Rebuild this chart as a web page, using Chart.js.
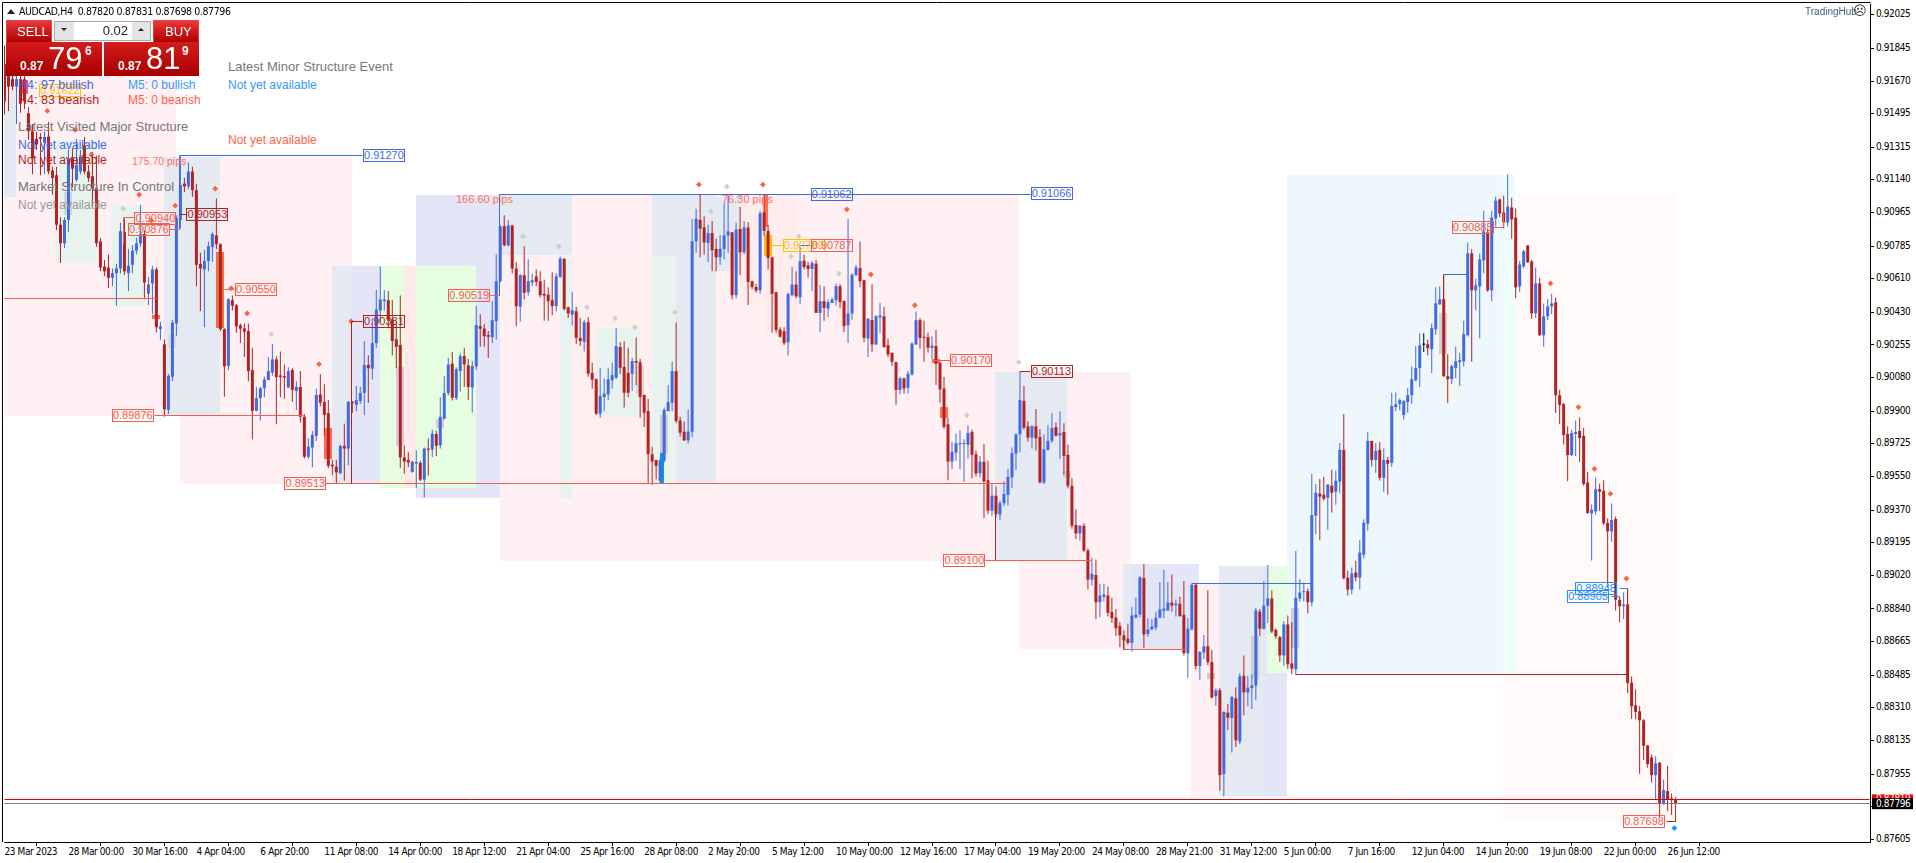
<!DOCTYPE html>
<html>
<head>
<meta charset="utf-8">
<title>AUDCAD,H4</title>
<script src="https://cdn.jsdelivr.net/npm/chart.js@4/dist/chart.umd.min.js"></script>
<style>
html,body{margin:0;padding:0;background:#fff;overflow:hidden;font-family:"Liberation Sans",sans-serif}
#wrap{position:relative;width:1916px;height:863px}
canvas{position:absolute;left:0;top:0}
.w{position:absolute;box-sizing:border-box;white-space:nowrap}
.red{background:linear-gradient(#e8383a,#ae0000);border:1px solid #f04040;color:#fff}
.price{background:linear-gradient(#d41c1c,#a80000)}
</style>
</head>
<body>
<div id="wrap">
<canvas id="c" width="1916" height="863"></canvas>
<div class="w" style="left:7px;top:9px;width:0;height:0;border-left:4px solid transparent;border-right:4px solid transparent;border-bottom:5px solid #222"></div>
<div class="w" id="hdr" style="left:19px;top:4px;font:10.5px 'DejaVu Sans Condensed','DejaVu Sans';letter-spacing:-0.4px;color:#000;line-height:14px">AUDCAD,H4&nbsp; 0.87820 0.87831 0.87698 0.87796</div>
<div class="w red" style="left:6px;top:20px;width:46px;height:23px;font:13px 'Liberation Sans';padding:3px 0 0 10px">SELL</div>
<div class="w red" style="left:153px;top:20px;width:46px;height:23px;font:13px 'Liberation Sans';padding:3px 0 0 11px">BUY</div>
<div class="w" style="left:52px;top:20px;width:101px;height:23px;background:#fff"></div>
<div class="w" style="left:54px;top:21px;width:97px;height:20px;background:#fff;border:1px solid #aaa"></div>
<div class="w" style="left:55px;top:22px;width:19px;height:18px;background:#e4e4e4"></div>
<div class="w" style="left:132px;top:22px;width:18px;height:18px;background:#e4e4e4"></div>
<div class="w" style="left:61px;top:28px;width:0;height:0;border-left:3px solid transparent;border-right:3px solid transparent;border-top:3px solid #222"></div>
<div class="w" style="left:138px;top:28px;width:0;height:0;border-left:3px solid transparent;border-right:3px solid transparent;border-bottom:3px solid #222"></div>
<div class="w" style="left:100px;top:23px;width:28px;text-align:right;font:13px 'Liberation Sans';color:#222">0.02</div>
<div class="w price" style="left:6px;top:42px;width:96px;height:34px"></div>
<div class="w price" style="left:104px;top:42px;width:95px;height:34px"></div>
<div class="w" style="left:20px;top:59px;font:bold 12px 'Liberation Sans';color:#fff">0.87</div>
<div class="w" style="left:48px;top:41px;font:31px 'Liberation Sans';color:#fff">79</div>
<div class="w" style="left:85px;top:44px;font:bold 12px 'Liberation Sans';color:#fff">6</div>
<div class="w" style="left:118px;top:59px;font:bold 12px 'Liberation Sans';color:#fff">0.87</div>
<div class="w" style="left:146px;top:41px;font:31px 'Liberation Sans';color:#fff">81</div>
<div class="w" style="left:182px;top:44px;font:bold 12px 'Liberation Sans';color:#fff">9</div>
<div class="w" style="left:1805px;top:5px;font:10px 'Liberation Sans';color:#3f5f80;line-height:14px">TradingHub</div>
<div class="w" style="left:1853px;top:3px;font:13px 'DejaVu Sans';color:#333;line-height:16px">☹</div>
</div>
<script>
// ---- Candles, in points of 0.00001 ----
const openPts = [
91760,91700,91680,91640,91680,91680,91497,91400,91360,91370,
91340,91372,91190,91165,90900,90800,90925,91255,91140,91185,
91325,91185,91160,91095,90810,90675,90670,90615,90640,90665,
90860,90640,90685,90760,90800,90850,90530,90585,90660,90340,
90258,89907,90085,90370,90925,91120,91105,91185,91085,90690,
90660,90705,90780,90843,90795,90340,90143,90495,90468,90360,
90344,90330,90120,89902,89970,90023,90068,90107,90178,90092,
90088,90027,90121,90008,90030,89870,89656,89705,89768,89990,
89950,89890,89613,89602,89568,89714,89700,89950,89934,89955,
89998,90148,90128,90265,90440,90490,90495,90392,90285,90255,
89652,89638,89575,89620,89623,89533,89700,89695,89778,89717,
89860,89997,90155,89970,90115,90195,90146,90027,90140,90356,
90343,90308,90297,90383,90597,90891,90789,90896,90665,90460,
90629,90538,90590,90623,90597,90529,90525,90495,90463,90620,
90716,90457,90418,90436,90293,90272,90377,90105,90072,89887,
89976,89990,90066,90080,90244,90137,90106,90101,90169,90163,
89987,89901,89669,89637,89527,89635,89900,89946,90115,89851,
89790,89744,89790,90811,90926,90885,90802,90855,90770,90725,
90770,90842,90859,90522,90877,90752,90885,90597,90566,90548,
90967,90867,90725,90538,90338,90329,90269,90522,90579,90511,
90707,90682,90663,90691,90427,90490,90450,90480,90495,90570,
90490,90361,90424,90629,90668,90602,90290,90388,90258,90402,
90409,90254,90213,90163,90014,90076,90026,90097,90258,90388,
90299,90297,90240,90249,90160,90022,89830,89630,89678,89722,
89724,89720,89789,89669,89568,89629,89530,89367,89447,89346,
89407,89452,89545,89673,89776,89955,89819,89759,89819,89762,
89518,89692,89741,89815,89771,89789,89666,89500,89290,89245,
89286,89153,88997,89022,88876,88905,88912,88823,88794,88748,
88698,88680,88659,88793,88810,89006,88706,88730,88740,88793,
88830,88832,88874,88860,88867,88808,88602,88730,88970,88534,
88606,88640,88555,88372,88404,87955,88284,88256,88361,88129,
88482,88392,88416,88430,88826,88734,88857,88896,88728,88689,
88591,88757,88548,88516,88895,88930,88935,88876,89340,89458,
89452,89436,89500,89468,89523,89693,89008,88944,89035,89008,
89131,89297,89741,89639,89693,89543,89639,89624,89922,89938,
89880,89949,89986,90066,90131,90257,90259,90232,90339,90473,
90500,90088,90072,90131,90163,90168,90307,90746,90548,90569,
90708,90858,90548,90933,91035,90965,90912,90992,90938,90569,
90676,90789,90703,90425,90585,90307,90409,90462,90484,89986,
89938,89778,89665,89778,89794,89767,89518,89352,89363,89482,
89473,89301,89256,89322,88889,88855,88864,88445,88323,88291,
88243,88108,88044,87949,88015,87794,87863,87824,87820];
const closePts = [
91560,91640,91640,91680,91550,91560,91400,91255,91330,91360,
91370,91185,91150,90900,90800,90925,91255,91200,91220,91265,
91185,91150,91095,90800,90670,90650,90615,90640,90665,90865,
90650,90680,90760,90800,90850,90590,90580,90660,90350,90355,
89910,90090,90375,90935,91113,91105,91185,91085,90685,90665,
90705,90785,90850,90795,90340,90140,90500,90465,90355,90342,
90326,90115,89902,89970,90023,90070,90115,90178,90083,90083,
90080,90115,90014,90030,89870,89656,89709,89773,89987,89946,
89880,89607,89604,89572,89714,89700,89950,89943,89959,89998,
90148,90130,90265,90445,90499,90499,90390,90276,90245,89652,
89630,89625,89629,89628,89533,89700,89693,89780,89715,89870,
89997,90150,89973,90125,90195,90151,90030,90142,90362,90342,
90302,90299,90388,90597,90891,90789,90896,90665,90463,90629,
90535,90597,90602,90593,90522,90520,90490,90463,90623,90718,
90449,90424,90441,90293,90276,90377,90101,90069,89887,89981,
89994,90071,90094,90249,90133,89999,89999,90169,90160,89976,
89892,89669,89630,89607,89637,89907,89949,90115,89848,89785,
89744,89790,90811,90932,90878,90805,90855,90763,90725,90771,
90843,90864,90522,90873,90752,90885,90593,90566,90547,90962,
90867,90721,90529,90335,90299,90265,90529,90579,90516,90704,
90673,90663,90695,90427,90490,90454,90484,90499,90570,90486,
90356,90424,90632,90671,90597,90293,90395,90258,90409,90413,
90244,90204,90165,90014,90076,90022,90101,90263,90388,90293,
90293,90240,90252,90154,90017,89816,89630,89682,89728,89729,
89727,89783,89666,89566,89629,89523,89367,89447,89349,89407,
89456,89548,89675,89776,89960,89812,89759,89819,89755,89518,
89696,89741,89810,89768,89782,89660,89500,89286,89245,89286,
89153,88997,89028,88876,88912,88917,88819,88791,88737,88698,
88671,88659,88805,88809,89010,88703,88730,88746,88793,88837,
88842,88874,88858,88869,88801,88603,88734,88970,88534,88609,
88640,88555,88365,88404,87949,88288,88257,88368,88136,88479,
88393,88418,88430,88832,88734,88858,88896,88719,88693,88591,
88757,88543,88520,88899,88928,88933,88876,89343,89463,89442,
89431,89506,89463,89527,89693,89005,88944,89030,89008,89142,
89302,89741,89639,89687,89543,89639,89618,89928,89938,89960,
89954,89986,90072,90131,90254,90257,90238,90345,90478,90500,
90088,90072,90141,90168,90174,90313,90746,90548,90575,90714,
90864,90548,90938,91029,90960,90912,90997,90928,90564,90687,
90757,90698,90425,90585,90307,90409,90462,90478,89986,89933,
89772,89665,89783,89788,89756,89510,89354,89372,89482,89468,
89299,89256,89317,88889,88855,88864,88443,88318,88288,88243,
88106,88008,87949,88012,87794,87869,87819,87815,87796];
const highPts = [
91860,91720,91710,91720,91700,91720,91530,91440,91400,91390,
91400,91450,91210,91210,90940,90940,91300,91310,91360,91300,
91370,91220,91290,91270,90830,90710,90740,90665,90690,90910,
90935,90770,90790,90830,91005,90870,90620,90680,90670,90380,
90285,90100,90390,90950,91265,91150,91235,91210,91120,90750,
90765,90810,90860,91040,90800,90345,90505,90520,90475,90370,
90370,90370,90240,90030,90030,90085,90190,90260,90195,90220,
90150,90135,90130,90060,90115,89885,89755,89795,90020,90100,
90045,89960,89640,89640,89720,89830,89955,89955,90035,90030,
90275,90200,90400,90550,90676,90550,90545,90495,90380,90520,
89715,89680,89635,89690,89635,89705,89755,89800,89795,89975,
90087,90185,90217,90135,90210,90240,90180,90170,90465,90420,
90368,90330,90490,90740,90895,90950,90925,90900,90700,90635,
90785,90715,90635,90660,90650,90605,90565,90645,90640,90730,
90722,90460,90540,90460,90400,90390,90405,90160,90075,90130,
90075,90130,90160,90345,90270,90275,90240,90185,90295,90180,
89990,89965,89710,89640,89650,89920,90040,90165,90375,89870,
89845,89910,90930,90985,91065,90945,90900,90920,90825,90845,
91015,91062,90860,90910,90995,90920,90915,90600,90580,90975,
91062,90900,90730,90540,90350,90350,90535,90675,90650,90785,
90740,90700,90705,90710,90575,90570,90500,90510,90585,90580,
90495,90930,90640,90685,90810,90605,90400,90580,90415,90480,
90460,90290,90215,90165,90085,90080,90115,90270,90435,90400,
90385,90320,90300,90335,90165,90083,89865,89735,89780,89798,
89750,89825,89800,89690,89660,89724,89635,89510,89497,89420,
89525,89590,89705,89780,90113,90035,89846,89825,89912,89805,
89775,89825,89890,89840,89900,89835,89720,89540,89375,89290,
89300,89165,89115,89105,88975,88975,88960,88900,88840,88770,
88725,88760,88850,88900,89015,89080,88790,88785,88825,88985,
89050,88985,89025,88890,88905,88990,88790,88975,88975,88615,
88700,88940,88620,88415,88415,88292,88330,88375,88420,88495,
88590,88480,88490,88845,88840,88990,89075,88940,88735,88695,
88775,88805,88770,89150,89000,88980,88950,89563,89510,89537,
89548,89510,89586,89581,89730,89885,89045,89062,89098,89210,
89320,89787,89741,89730,89735,89700,89655,89999,90000,89970,
89960,90025,90140,90250,90318,90318,90285,90370,90565,90570,
90632,90205,90150,90245,90212,90385,90805,90770,90610,90745,
90975,90880,90975,91050,91040,91055,91170,91045,90987,90705,
90765,90790,90710,90670,90615,90478,90500,90530,90510,90015,
89945,89820,89800,89850,89868,89810,89574,89400,89544,89512,
89530,89325,89405,89335,88905,88930,88945,88478,88410,88320,
88250,88110,88060,88050,88020,87925,87999,87850,87831];
const lowPts = [
91490,91510,91620,91440,91500,91520,91355,91170,91300,91165,
91170,91170,91060,90870,90695,90775,90860,91100,91130,91170,
91170,91130,91000,90780,90650,90625,90560,90570,90465,90640,
90630,90545,90640,90740,90780,90500,90470,90420,90325,90280,
89870,89885,90060,90305,90880,91075,91090,91050,90570,90437,
90350,90650,90700,90770,90330,89977,90120,90440,90320,90265,
90190,90060,89750,89900,89850,89975,90065,90090,89830,89975,
89965,90025,89950,89905,89840,89647,89645,89600,89740,89925,
89770,89595,89560,89510,89562,89527,89610,89890,89900,89940,
89880,89945,90070,90240,90375,90440,90345,90200,90130,89595,
89565,89600,89570,89487,89525,89437,89555,89655,89660,89700,
89855,89985,89957,89960,90005,90030,89960,89893,90120,90245,
90245,90185,90265,90285,90590,90785,90785,90640,90355,90380,
90500,90520,90570,90570,90510,90385,90385,90415,90435,90615,
90440,90400,90360,90260,90250,90220,90085,90020,89880,89865,
89900,89960,90020,90073,90100,89920,89975,90010,90040,89865,
89815,89510,89505,89535,89510,89625,89900,89900,89835,89765,
89740,89725,89760,90750,90725,90740,90700,90650,90650,90685,
90715,90750,90500,90505,90630,90740,90470,90555,90535,90530,
90840,90660,90320,90320,90295,90255,90198,90515,90505,90475,
90660,90615,90545,90427,90325,90385,90405,90480,90465,90455,
90325,90265,90390,90625,90565,90270,90190,90217,90255,90320,
90240,90190,90142,89935,89990,89995,89995,90090,90255,90235,
90165,90215,90180,90040,89945,89806,89530,89590,89634,89590,
89520,89645,89540,89550,89545,89327,89349,89340,89330,89315,
89390,89395,89490,89585,89680,89800,89737,89700,89690,89513,
89510,89690,89730,89765,89645,89560,89485,89270,89215,89205,
89145,88945,88965,88785,88795,88880,88800,88765,88695,88635,
88620,88650,88610,88790,88795,88630,88690,88725,88725,88790,
88790,88830,88825,88800,88800,88590,88470,88725,88515,88460,
88570,88540,88360,88320,87865,87835,88190,88070,88100,88115,
88270,88318,88303,88350,88695,88730,88765,88710,88680,88555,
88535,88520,88490,88490,88880,88880,88815,88853,89240,89208,
89420,89265,89357,89399,89460,88998,88912,88919,88987,88945,
89110,89260,89603,89570,89529,89468,89452,89601,89900,89905,
89855,89890,89940,90060,90030,90218,90200,90105,90310,90470,
90083,89944,90045,90077,90035,90140,90300,90165,90443,90291,
90640,90540,90490,90890,90940,90880,90890,90825,90505,90540,
90665,90695,90395,90400,90305,90245,90388,90420,89890,89830,
89720,89525,89660,89660,89628,89500,89350,89100,89345,89365,
89290,88955,89200,88832,88768,88785,88390,88250,88250,87955,
88030,87990,87910,87820,87725,87790,87757,87735,87698];

// ---- Axis labels ----
const timeLabels = ["23 Mar 2023","28 Mar 00:00","30 Mar 16:00","4 Apr 04:00","6 Apr 20:00","11 Apr 08:00","14 Apr 00:00","18 Apr 12:00","21 Apr 04:00","25 Apr 16:00","28 Apr 08:00","2 May 20:00","5 May 12:00","10 May 00:00","12 May 16:00","17 May 04:00","19 May 20:00","24 May 08:00","28 May 21:00","31 May 12:00","5 Jun 00:00","7 Jun 16:00","12 Jun 04:00","14 Jun 20:00","19 Jun 08:00","22 Jun 00:00","26 Jun 12:00"];
const priceTicks = [92025,91845,91670,91495,91315,91140,90965,90785,90610,90430,90255,90080,89900,89725,89550,89370,89195,89020,88840,88665,88485,88310,88135,87955,87780,87605];

// ---- Signal markers: candle index, price ----
const hotMarkers = [[10.7,91510],[17.7,91408],[21.7,91275],[33.7,91061],[36.7,90922],[42.7,91002],[52.7,91093],[56.7,90559],[60.7,90425],[78.7,90152],[86.7,90382],[173.7,91115],[189.7,91115],[210.7,90982],[216.7,90633],[227.7,90468],[386.7,90585],[393.7,89922],[397.7,89591],[401.7,89457],[405.7,89003]];
const greyMarkers = [[29.7,90986],[66.7,90313],[180.7,91104],[176.7,90971],[183.7,91050],[129.7,90837],[138.7,90783],[145.7,90457],[152.7,90398],[157.7,90350],[167.7,90430],[198.7,90837],[196.7,90730],[208.7,90638],[253.7,90163],[240.7,89879]];
const blueMarkers = [[417.7,87665]];

// ---- Shades: from candle, to candle, top price, bottom price, colour ----
const pink='#FFF0F4',lav='#E4E6F8',gbl='#E5E9F1',grn='#E8F2EE',lgr='#E6FDE2',sal='#FFE9E9',lbl='#EFF7FE',mnt='#EEFDFB',ivo='#FFF9F9',rose='#FFECEC';
const zones = [
[-0.12,39.88,91050,89874,pink],[2.88,42.88,91780,90580,pink],[-0.12,2.88,91780,91050,gbl],
[12.88,22.88,91356,90697,grn],[26.88,34.88,91008,90462,grn],
[43.88,86.88,91265,89510,pink],[39.88,53.88,91265,89874,gbl],
[81.88,86.88,90676,89510,gbl],[86.88,93.88,90676,89510,lav],[93.88,99.88,90676,89489,lgr],[99.88,102.88,90676,89489,sal],
[102.88,141.88,91061,89435,lav],[102.88,117.88,90676,89489,lgr],[123.88,141.88,91061,89435,gbl],
[123.88,253.88,90735,89098,pink],[141.88,253.88,91061,89510,pink],[141.88,161.88,90730,89510,'#FFEEEE'],[138.88,141.88,90724,89435,grn],
[147.88,158.88,90345,89869,grn],[161.88,177.88,91061,89510,gbl],[161.88,167.88,90730,89510,grn],[177.88,185.88,91050,90650,gbl],
[183.88,198.6,91061,90478,rose],[189.88,198.6,90478,90297,rose],[207.88,212.1,90520,90329,rose],
[253.88,281.88,90109,88623,pink],[247.88,265.88,90109,89098,gbl],[279.88,298.88,89082,88623,lav],[279.88,281.88,89082,88623,gbl],
[296.88,303.88,88981,87837,pink],[303.88,320.88,89072,87837,lav],[303.88,314.88,89072,87837,gbl],[315.88,320.88,89072,88494,lgr],[320.88,322.88,89072,88494,'#EEE4E2'],
[320.88,374.88,91168,88494,lbl],[374.88,377.88,91168,88494,mnt],[377.88,417.88,91056,87703,ivo],[374.88,377.88,88494,87703,ivo],[358.88,364.88,90634,89949,'#F0F6F3']
];
const blocks = [
[52.88,54.88,90751,90345,'#F07040'],[36.88,38.88,90414,90393,'#FF6A4D'],[40.88,42.88,90307,90238,'#DDDDDD'],[79.88,81.88,89810,89644,'#FF6A4D'],
[14.88,16.88,91077,90954,'#D5D5D5'],[97.88,99.88,90136,89714,'#D8C8E0'],[107.88,109.88,89858,89810,'#D8C8E0'],[84.88,86.88,89847,89831,'#DDDDDD'],
[157.88,159.88,90141,89992,'#D9D9D9'],[163.88,165.88,89879,89676,'#D0CCD0'],[163.88,164.88,89676,89510,'#0B96E8'],[189.88,190.88,91061,90890,'#FF7050'],
[189.88,191.88,90842,90730,'#FFC000'],[231.88,233.88,90179,90157,'#FF7050'],[233.88,235.88,89922,89863,'#FF7050'],[264.88,266.88,89580,89542,'#D5D5CC'],
[300.88,302.88,88499,88462,'#CCCCCC'],[311.88,313.88,88697,88462,'#D0D0D0'],[321.88,323.88,88847,88633,'#D0D0D0'],[358.88,360.88,90425,90205,'#D8D0D0'],[3.88,5.88,91676,91601,'#F05090']
];

// ---- Structure lines: candle, price, candle, price, colour ----
const royal='#4169E1',tom='#F0604F',dkr='#B22222',yel='#FFC000',ddg='#1E90FF';
const segments = [
[43.875,91270,89.6,91270,royal],[43.875,91270,43.875,90876,royal],[41.2,90876,43.875,90876,tom],
[123.875,91064,256.6,91064,royal],[123.875,91064,123.875,90519,royal],[121.6,90519,123.875,90519,tom],
[43.875,90953,45.6,90953,dkr],[29.875,90940,32.6,90940,tom],[29.875,90940,29.875,90794,tom],
[191.875,90790,194.6,90790,yel],[198.875,90787,201.6,90787,royal],[55.1,90550,57.6,90550,tom],
[37.6,89876,74.9,89876,tom],[-0.12,90505,37.9,90505,tom],[80.4,89513,250.9,89513,tom],
[86.875,90381,89.6,90381,dkr],[86.875,90381,86.875,89513,dkr],[232,90170,236.6,90170,tom],[253.875,90113,256.6,90113,dkr],
[245.4,89100,271.9,89100,tom],[247.875,89360,247.875,89100,dkr],[279.875,88620,295.9,88620,tom],[279.875,88700,279.875,88620,dkr],
[296.875,88975,326.875,88975,royal],[322.875,88489,405.875,88489,dkr],[359.875,90634,365.875,90634,royal],[359.875,90634,359.875,90500,dkr],
[372.4,90885,374.875,90885,tom],[374.875,90885,374.875,90958,tom],[403.9,88948,405.875,88948,ddg],[401.9,88905,404,88905,ddg],[405.875,88948,405.875,88480,dkr],
[415.6,87698,418,87698,dkr],[-0.12,87819,466.6,87819,'#E00000'],[-0.12,87796,466.6,87796,'#808080']
];

// ---- Boxed price tags: text, candle at the centre, price, colour ----
const tags = [
["0.91622",13.9,91617,yel],["0.91270",94.9,91270,royal],["0.91062",206.9,91062,royal],["0.91066",261.9,91066,royal],
["0.90940",37.75,90933,tom],["0.90876",36.1,90876,tom],["0.90953",50.75,90953,dkr],["0.90550",62.9,90550,tom],["0.90519",116.25,90519,tom],
["0.90789",199.9,90790,yel],["0.90787",206.9,90787,tom],["0.90381",94.9,90381,dkr],["0.90170",241.75,90170,tom],["0.90113",261.9,90113,dkr],
["0.89876",32.1,89876,tom],["0.89513",75.25,89513,tom],["0.89100",240.1,89100,tom],["0.90885",367.25,90885,tom],
["0.88948",398.1,88948,ddg],["0.88905",396.1,88905,ddg],["0.87698",410.1,87698,tom]
];

// ---- Free-floating captions: text, page x, page y, font size, colour ----
const captions = [
["Latest Minor Structure Event",228,67,13,'#777777'],["Not yet available",228,86,12,'#3399FF'],["Not yet available",228,141,12,'#FF6347'],
["H4: 97 bullish",18,86,12.5,royal],["M5: 0 bullish",128,86,12,'#3399FF'],["H4: 83 bearish",18,101,12.5,dkr],["M5: 0 bearish",128,101,12,'#FF6347'],
["Latest Visited Major Structure",18,127,13,'#777777'],["Not yet available",18,146,12,royal],["Not yet available",18,161,12,dkr],
["Market Structure In Control",18,187,13,'#777777'],["Not yet available",18,206,12,'#999999'],
["175.70 pips",132,162,10.5,'#FF7060'],["166.60 pips",456,200,11,'#FF7060'],["76.30 pips",722,200,11,'#FF7060']
];

const candleIdx = openPts.map((_, i) => i);
const barColor = candleIdx.map(i => closePts[i] > openPts[i] ? royal : closePts[i] < openPts[i] ? dkr : '#000000');
const axisFont = {family:'"DejaVu Sans Condensed","DejaVu Sans",sans-serif', size:10};
const crisp = v => Math.round(v) + 0.5;

const overlay = {
  id:'overlay',
  beforeDraw(ch){
    const {ctx} = ch;
    ctx.fillStyle='#fff'; ctx.fillRect(0,0,1916,863);
    ctx.letterSpacing='-0.4px';
  },
  beforeDatasetsDraw(ch){
    const {ctx, scales:{x,y}} = ch;
    ctx.save();
    for (const [a,b,t,u,col] of zones.concat(blocks)) {
      const x0=Math.round(x.getPixelForValue(a)), x1=Math.round(x.getPixelForValue(b));
      const y0=Math.round(y.getPixelForValue(t)), y1=Math.round(y.getPixelForValue(u));
      ctx.fillStyle=col; ctx.fillRect(x0,y0,x1-x0,y1-y0);
    }
    ctx.restore();
  },
  afterDatasetsDraw(ch){
    const {ctx, scales:{x,y}, chartArea:ca} = ch;
    ctx.save();
    ctx.letterSpacing='0px';
    ctx.lineWidth=1;
    for (const [a,p,b,q,col] of segments) {
      ctx.strokeStyle=col; ctx.beginPath();
      ctx.moveTo(crisp(x.getPixelForValue(a)-0.5),crisp(y.getPixelForValue(p)-0.5));
      ctx.lineTo(crisp(x.getPixelForValue(b)-0.5),crisp(y.getPixelForValue(q)-0.5));
      ctx.stroke();
    }
    ctx.font='11px "Liberation Sans"'; ctx.textBaseline='middle'; ctx.textAlign='center';
    for (const [txt,i,p,col] of tags) {
      const cx=x.getPixelForValue(i), cy=y.getPixelForValue(p);
      ctx.strokeStyle=col; ctx.strokeRect(crisp(cx-21),crisp(cy-6.5),41,12);
      ctx.fillStyle=col; ctx.fillText(txt,cx,cy+0.5);
    }
    ctx.textAlign='left';
    for (const [txt,px,py,size,col] of captions) { ctx.font=`${size}px "Liberation Sans"`; ctx.fillStyle=col; ctx.fillText(txt,px,py); }
    // frame on the two sides the axes do not draw
    ctx.strokeStyle='#000'; ctx.beginPath();
    ctx.moveTo(2.5,842); ctx.lineTo(2.5,2.5); ctx.lineTo(ca.right+0.5,2.5); ctx.stroke();
    // last-price boxes on the price axis
    const askY=y.getPixelForValue(87819), bidY=y.getPixelForValue(87796);
    ctx.letterSpacing='-0.4px';
    ctx.font=`${axisFont.size}px ${axisFont.family}`;
    ctx.fillStyle='#F00000'; ctx.fillRect(1872,askY-5,41,10);
    ctx.fillStyle='#fff'; ctx.fillText('0.87819',1876,askY);
    ctx.fillStyle='#000'; ctx.fillRect(1872,bidY-5.5,41,11);
    ctx.fillStyle='#fff'; ctx.fillText((closePts[closePts.length-1]/1e5).toFixed(5),1876,bidY+0.5);
    ctx.restore();
  }
};

const marker = (list, col) => ({type:'scatter', data:list.map(([a,b])=>({x:a,y:b})), backgroundColor:col, borderColor:col, pointStyle:'rectRot', pointRadius:2.9, borderWidth:0, showLine:false, order:0});

const canvas = document.getElementById('c');
canvas.getContext('2d',{alpha:false});
new Chart(canvas, {
  type:'bar',
  data:{datasets:[
    {label:'range', data:candleIdx.map(i=>({x:i,y:[lowPts[i],highPts[i]]})), backgroundColor:barColor, barThickness:1, maxBarThickness:1, grouped:false, inflateAmount:0, order:2},
    {label:'body', data:candleIdx.map(i=>({x:i,y:[openPts[i],closePts[i]]})), backgroundColor:barColor, barThickness:3, maxBarThickness:3, grouped:false, inflateAmount:0, minBarLength:1, order:1},
    marker(hotMarkers,'#FF6040'), marker(greyMarkers,'#C8D4CC'), marker(blueMarkers,'#1E90FF')
  ]},
  plugins:[overlay],
  options:{
    responsive:false, animation:false, devicePixelRatio:1,
    layout:{padding:{left:3,top:2,right:0,bottom:0}},
    plugins:{legend:{display:false},tooltip:{enabled:false}},
    scales:{
      x:{type:'linear', offset:false, min:-0.125, max:466.625,
        grid:{drawOnChartArea:false, tickLength:4, color:'#000'}, border:{color:'#000'},
        ticks:{align:'start', autoSkip:false, maxRotation:0, minRotation:0, padding:0, color:'#000', font:axisFont, callback:v=>timeLabels[v/16]},
        afterBuildTicks(s){ s.ticks = timeLabels.map((_,k)=>({value:k*16})); },
        afterFit(s){ s.height=21; s.paddingLeft=0; s.paddingRight=0; }},
      y:{position:'right', min:87590.6, max:92083,
        grid:{drawOnChartArea:false, tickLength:4, color:'#000'}, border:{color:'#000'},
        ticks:{autoSkip:false, padding:2, color:'#000', font:axisFont, callback:v=>(v/1e5).toFixed(5)},
        afterBuildTicks(s){ s.ticks = priceTicks.map(v=>({value:v})); },
        afterFit(s){ s.width=46; s.paddingTop=0; s.paddingBottom=0; }}
    }
  }
});
</script>
</body>
</html>
